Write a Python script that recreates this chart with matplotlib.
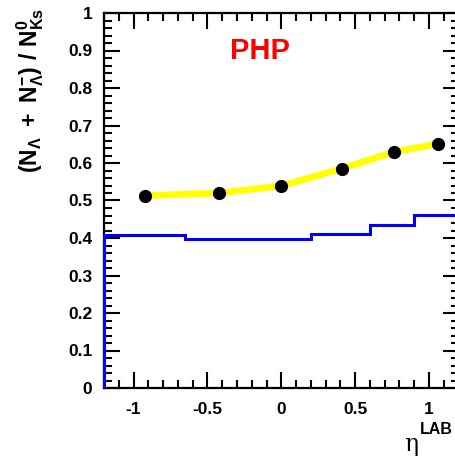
import matplotlib
matplotlib.use("Agg")
import matplotlib.pyplot as plt
from matplotlib.ticker import MultipleLocator, FuncFormatter

plt.rcParams['font.family'] = ['Liberation Sans', 'DejaVu Sans']
plt.rcParams['font.weight'] = 'bold'
plt.rcParams['axes.unicode_minus'] = False
plt.rcParams['mathtext.fontset'] = 'custom'
plt.rcParams['mathtext.rm'] = 'Liberation Sans:bold'
plt.rcParams['mathtext.bf'] = 'Liberation Sans:bold'
plt.rcParams['mathtext.it'] = 'Liberation Sans:bold'
plt.rcParams['mathtext.sf'] = 'Liberation Sans:bold'

# ratio points (yellow band with black dots)
eta = [-0.92, -0.42, 0.0, 0.41, 0.76, 1.06]
ratio = [0.513, 0.520, 0.539, 0.585, 0.629, 0.651]

# blue histogram
bin_edges = [-1.2, -0.65, 0.2, 0.6, 0.9, 1.2]
hist_vals = [0.408, 0.397, 0.41, 0.435, 0.462]

fig = plt.figure(figsize=(4.56, 4.58), dpi=100)
ax = fig.add_axes([104/456, 70/458, 354.6/456, 375/458])

ax.stairs(hist_vals, bin_edges, baseline=0, color='#0000ff', lw=2.2,
          zorder=4, clip_on=False)
ax.plot(eta, ratio, color='#ffff00', lw=4.8, solid_capstyle='round',
        solid_joinstyle='round', zorder=5)
ax.plot(eta, ratio, 'o', color='black', ms=8.5, zorder=6)

ax.set_xlim(-1.2, 1.2)
ax.set_ylim(0, 1)

ax.xaxis.set_major_locator(MultipleLocator(0.5))
ax.xaxis.set_minor_locator(MultipleLocator(0.1))
ax.yaxis.set_major_locator(MultipleLocator(0.1))
ax.yaxis.set_minor_locator(MultipleLocator(0.02))
fmt = FuncFormatter(lambda v, p: '%g' % round(v, 2))
ax.xaxis.set_major_formatter(fmt)
ax.yaxis.set_major_formatter(fmt)

ax.tick_params(which='both', direction='in', top=True, right=True, width=1.5,
               labelsize=12.5)
ax.tick_params(which='major', length=11.5)
ax.tick_params(which='minor', length=5.8)
ax.tick_params(axis='x', pad=10)
ax.tick_params(axis='y', pad=8.5)
for s in ax.spines.values():
    s.set_linewidth(1.6)

ax.text(260/456, 1 - 51/458, 'PHP', transform=fig.transFigure,
        color='#ff0000', fontsize=21, fontweight='bold', ha='center', va='center')

fig.text(30/456, 1 - 8/458,
         r'$\mathbf{(N_{\Lambda}\ +\ N_{\Lambda}^{-})\ /\ N_{Ks}^{0}}$',
         rotation=90, ha='center', va='top', fontsize=16.5)

fig.text(404/456, 1 - 456/458, '\u03b7', family='DejaVu Serif',
         fontweight='normal', fontsize=17, ha='left', va='bottom')
fig.text(420/456, 1 - 437/458, 'LAB', fontsize=11.5, fontweight='bold',
         ha='left', va='bottom')

fig.savefig('out.png', dpi=100)
